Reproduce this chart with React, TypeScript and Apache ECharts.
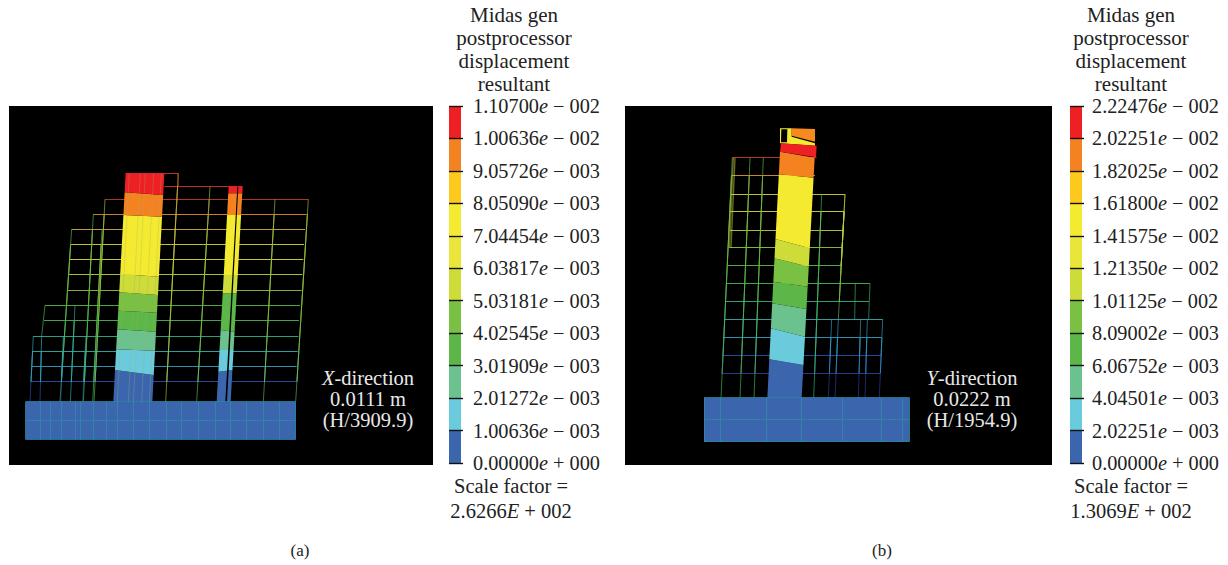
import React, { useEffect, useRef } from "react";
import * as echarts from "echarts";

const FONT = '"Liberation Serif", serif';

// colour scale (bottom to top)
const scaleColors = ["#3b66ae", "#69cbdb", "#6cc28f", "#5cb748", "#7ac143", "#cddc39", "#e9e53a", "#f4eb30", "#fcc91c", "#f58220", "#ee2024"];
const ticksA = ["0.00000{i|e} + 000", "1.00636{i|e} − 003", "2.01272{i|e} − 003", "3.01909{i|e} − 003", "4.02545{i|e} − 003", "5.03181{i|e} − 003", "6.03817{i|e} − 003", "7.04454{i|e} − 003", "8.05090{i|e} − 003", "9.05726{i|e} − 003", "1.00636{i|e} − 002", "1.10700{i|e} − 002"];
const ticksB = ["0.00000{i|e} + 000", "2.02251{i|e} − 003", "4.04501{i|e} − 003", "6.06752{i|e} − 003", "8.09002{i|e} − 003", "1.01125{i|e} − 002", "1.21350{i|e} − 002", "1.41575{i|e} − 002", "1.61800{i|e} − 002", "1.82025{i|e} − 002", "2.02251{i|e} − 002", "2.22476{i|e} − 002"];

// Panel (a): storeys [height, left end, right end, colour]
const levelsA: [number, number, number, string][] = [
  [40, 377, 535, "#c8382c"], [80, 493, 728, "#d8302a"], [118, 315, 925, "#c03a28"], [162, 280, 920, "#e08a30"],
  [207, 215, 915, "#d0b040"], [254, 212, 912, "#d8d03a"], [298, 210, 910, "#dcdc35"], [344, 207, 907, "#c0d03a"],
  [390, 203, 905, "#94c03c"], [436, 135, 900, "#58b848"], [482, 132, 897, "#46b855"], [528, 100, 895, "#32b085"],
  [574, 97, 893, "#30b0b0"], [620, 95, 890, "#30a0c0"], [665, 92, 888, "#2a50b0"],
];
const colsA: [number, number, number, number][] = [
  [90, 725, 100, 528], [125, 528, 135, 436], [120, 725, 125, 528], [180, 725, 215, 207], [182, 725, 190, 528],
  [211, 725, 225, 436], [248, 725, 258, 528], [278, 725, 306, 207], [250, 725, 280, 162], [282, 725, 315, 118],
  [497, 725, 535, 40], [590, 725, 630, 80], [790, 725, 825, 118], [887, 725, 925, 118], [533, 40, 535, 80],
];
const baseA = { x0: 77, x1: 887, y0: 725, y1: 838, mid: [780], cols: [120, 150, 185, 225, 240, 280, 318, 352, 400, 448, 498, 545, 595, 645, 690, 740, 790, 838] };
// Walls: bottom-left, top-left, bottom-right, top-right x; band boundaries [left y, right y] from the foot up
const wallA1 = { lb: 340, lt: 377, rb: 457, rt: 493, yb: 725, yt: 40 };
const bandsA1: [number, number, number][] = [
  [725, 725, 0], [630, 645, 1], [568, 572, 2], [508, 515, 3], [452, 458, 4], [397, 405, 5], [342, 350, 7], [165, 170, 9], [97, 105, 10], [40, 40, 10],
];
const wallA2 = { lb: 650, lt: 686, rb: 692, rt: 728, yb: 725, yt: 80 };
const bandsA2: [number, number, number][] = [
  [725, 725, 0], [635, 630, 1], [570, 570, 2], [510, 515, 3], [400, 400, 5], [345, 345, 7], [165, 165, 9], [100, 100, 10], [80, 80, 10],
];
const slitA: [number, number][] = [[676, 725], [712, 80], [715, 80], [681, 725]];
const innerA = [352, 385, 400, 425, 448];

// Panel (b)
const levelsB: [number, number, number, string][] = [
  [128, 157, 410, "#c8382c"], [182, 155, 405, "#d89a30"], [238, 153, 495, "#d8d03a"], [290, 150, 492, "#d8d83a"],
  [345, 150, 490, "#c0d03a"], [398, 148, 487, "#98c53c"], [452, 143, 483, "#60b848"], [506, 140, 570, "#46b855"],
  [560, 135, 567, "#32b085"], [613, 132, 608, "#30b0b0"], [668, 130, 605, "#30a0c0"], [722, 127, 603, "#2a50b0"], [775, 125, 601, "#2a40a0"],
];
const colsB: [number, number, number, number][] = [
  [123, 848, 157, 128], [180, 848, 210, 128], [222, 848, 250, 128], [401, 848, 425, 238], [445, 848, 455, 613],
  [465, 848, 475, 613], [475, 613, 495, 238], [535, 848, 542, 613], [555, 848, 562, 613], [598, 848, 608, 613],
  [566, 613, 570, 506], [524, 613, 526, 506], [482, 480, 495, 238],
];
const baseB = { x0: 72, x1: 688, y0: 848, y1: 980, mid: [912], cols: [122, 260, 365, 488, 603, 667] };
const wallB = { lb: 262, lt: 300, rb: 365, rt: 405, yb: 848, yt: 110 };
const bandsB: [number, number, number][] = [
  [848, 848, 0], [733, 750, 1], [640, 665, 2], [565, 582, 3], [500, 515, 4], [430, 455, 5], [372, 400, 7], [178, 188, 9], [110, 128, 9],
];
const topBlocksB: [string, [number, number][]][] = [
  ["#f4eb30", [[300, 85], [300, 40], [335, 40], [335, 65], [405, 85], [405, 92]]],
  ["#f58a20", [[335, 40], [405, 42], [405, 80], [335, 62]]],
  ["#000000", [[304, 43], [322, 43], [321, 82], [303, 82]]],
  ["#ee2024", [[303, 85], [410, 92], [408, 127], [300, 110]]],
];
const brightB: [number, number, number, number][] = [[148, 398, 160, 128], [153, 398, 165, 128]];

const titleLines = "Midas gen\npostprocessor\ndisplacement\nresultant";

type Poly = { fill: string; pts: [number, number][] };

function bandPolys(w: typeof wallA1, bands: [number, number, number][]): Poly[] {
  const xl = (y: number) => w.lb + ((w.lt - w.lb) * (w.yb - y)) / (w.yb - w.yt);
  const xr = (y: number) => w.rb + ((w.rt - w.rb) * (w.yb - y)) / (w.yb - w.yt);
  const out: Poly[] = [];
  for (let i = 0; i < bands.length - 1; i++) {
    const [a, b, c] = bands[i];
    const [d, e] = bands[i + 1];
    out.push({ fill: scaleColors[c], pts: [[xl(a), a], [xr(b), b], [xr(e), e], [xl(d), d]] });
  }
  return out;
}

function levelColor(levels: [number, number, number, string][], y: number) {
  let best = levels[0];
  for (const l of levels) if (Math.abs(l[0] - y) < Math.abs(best[0] - y)) best = l;
  return best[3];
}

function frameLines(levels: [number, number, number, string][], cols: [number, number, number, number][]) {
  const out: any[] = [];
  for (const [y, a, b, c] of levels) out.push({ coords: [[a, y], [b, y]], lineStyle: { color: c, width: 1.2, opacity: 0.9 } });
  const ys = levels.map((l) => l[0]);
  for (const [x0, y0, x1, y1] of cols) {
    const cuts = [y0, ...ys.filter((y) => y < y0 && y > y1), y1];
    for (let i = 0; i < cuts.length - 1; i++) {
      const t = (y: number) => x0 + ((x1 - x0) * (y0 - y)) / (y0 - y1 || 1);
      const m = (cuts[i] + cuts[i + 1]) / 2;
      out.push({ coords: [[t(cuts[i]), cuts[i]], [t(cuts[i + 1]), cuts[i + 1]]], lineStyle: { color: levelColor(levels, m), width: 1, opacity: 0.65 } });
    }
  }
  return out;
}

function baseLines(b: typeof baseA) {
  const out: any[] = [];
  for (const y of b.mid) out.push({ coords: [[b.x0, y], [b.x1, y]] });
  for (const x of b.cols) out.push({ coords: [[x, b.y0], [x, b.y1]] });
  out.push({ coords: [[b.x0, b.y0], [b.x1, b.y0]] }, { coords: [[b.x0, b.y1], [b.x1, b.y1]] }, { coords: [[b.x0, b.y0], [b.x0, b.y1]] }, { coords: [[b.x1, b.y0], [b.x1, b.y1]] });
  return out;
}

function polySeries(polys: Poly[], idx: number, z: number) {
  return {
    type: "custom",
    xAxisIndex: idx,
    yAxisIndex: idx,
    z,
    silent: true,
    clip: false,
    data: polys.map((p) => p.pts[0]),
    renderItem: (params: any, api: any) => {
      const p = polys[params.dataIndex];
      return { type: "polygon", shape: { points: p.pts.map((q) => api.coord(q)) }, style: { fill: p.fill, stroke: null } };
    },
  };
}

function lineSeries(data: any[], idx: number, z: number, style: any = {}) {
  return { type: "lines", coordinateSystem: "cartesian2d", xAxisIndex: idx, yAxisIndex: idx, z, silent: true, polyline: false, lineStyle: style, data };
}

function colorbarSeries(idx: number) {
  return scaleColors.map((c) => ({
    type: "bar",
    stack: "scale" + idx,
    xAxisIndex: idx,
    yAxisIndex: idx,
    barWidth: 12,
    silent: true,
    itemStyle: { color: c },
    data: [1],
  }));
}

function textTitle(text: string, left: number, top: number, color = "#222222", size = 21, lh = 22.8) {
  return {
    text,
    left,
    top,
    textAlign: "center",
    padding: 0,
    textStyle: {
      fontFamily: FONT,
      fontWeight: "normal",
      fontSize: size,
      lineHeight: lh,
      color,
      rich: { i: { fontFamily: FONT, fontStyle: "italic", fontSize: size, color, lineHeight: lh } },
    },
  };
}

export default function App() {
  const ref = useRef<HTMLDivElement>(null);
  useEffect(() => {
    document.body.style.margin = "0";
    document.body.style.background = "#ffffff";
    const chart = echarts.init(ref.current!, undefined, { renderer: "svg" });
    const hidden = { show: false };
    const panelX = (min: number, max: number, gridIndex: number) => ({ type: "value", min, max, gridIndex, ...hidden, splitLine: hidden });
    const panelY = (min: number, max: number, gridIndex: number) => ({ type: "value", min, max, gridIndex, inverse: true, ...hidden, splitLine: hidden });
    const barY = (labels: string[], gridIndex: number, margin: number) => ({
      type: "value",
      gridIndex,
      position: "right",
      min: 0,
      max: 11,
      interval: 1,
      z: 5,
      splitLine: hidden,
      axisLine: hidden,
      axisTick: { show: true, inside: true, length: 14, lineStyle: { color: "#111111", width: 1.4 } },
      axisLabel: {
        show: true,
        margin,
        fontFamily: FONT,
        fontSize: 20.3,
        color: "#222222",
        formatter: (v: number) => labels[Math.round(v)],
        rich: { i: { fontFamily: FONT, fontStyle: "italic", fontSize: 20.3, color: "#222222" } },
      },
    });
    const polysA = [
      { fill: scaleColors[0], pts: [[baseA.x0, baseA.y0], [baseA.x1, baseA.y0], [baseA.x1, baseA.y1], [baseA.x0, baseA.y1]] } as Poly,
      ...bandPolys(wallA1, bandsA1),
      ...bandPolys(wallA2, bandsA2),
      { fill: "#000000", pts: slitA } as Poly,
    ];
    const polysB = [
      { fill: scaleColors[0], pts: [[baseB.x0, baseB.y0], [baseB.x1, baseB.y0], [baseB.x1, baseB.y1], [baseB.x0, baseB.y1]] } as Poly,
      ...bandPolys(wallB, bandsB),
      ...topBlocksB.map(([fill, pts]) => ({ fill, pts })),
    ];
    chart.setOption({
      animation: false,
      backgroundColor: "#ffffff",
      title: [
        textTitle(titleLines, 514, 4),
        textTitle(titleLines, 1131, 4),
        textTitle("Scale factor =\n2.6266{i|E} + 002", 511, 473, "#222222", 20.5, 25),
        textTitle("Scale factor =\n1.3069{i|E} + 002", 1131, 473, "#222222", 20.5, 25),
        textTitle("(a)", 300, 539, "#222222", 17),
        textTitle("(b)", 882, 539, "#222222", 17),
        textTitle("{i|X}-direction\n0.0111 m\n(H/3909.9)", 368, 367, "#e8e8e8", 20.5, 21),
        textTitle("{i|Y}-direction\n0.0222 m\n(H/1954.9)", 972, 367, "#e8e8e8", 20.5, 21),
      ],
      grid: [
        { left: 9, top: 106, width: 424, height: 359, show: true, backgroundColor: "#000000", borderWidth: 0 },
        { left: 625, top: 106, width: 427, height: 359, show: true, backgroundColor: "#000000", borderWidth: 0 },
        { left: 447, top: 106, width: 16, height: 357 },
        { left: 1068, top: 106, width: 16, height: 357 },
      ],
      xAxis: [
        panelX(27, 1299, 0),
        panelX(-165, 1116, 1),
        { type: "category", gridIndex: 2, data: ["scale"], show: false },
        { type: "category", gridIndex: 3, data: ["scale"], show: false },
      ],
      yAxis: [panelY(-162, 915, 0), panelY(-27, 1050, 1), barY(ticksA, 2, 10), barY(ticksB, 3, 8)],
      series: [
        lineSeries(frameLines(levelsA, colsA), 0, 2),
        polySeries(polysA, 0, 3),
        lineSeries(baseLines(baseA), 0, 4, { color: "#2f8fa5", width: 1, opacity: 0.75 }),
        lineSeries(innerA.map((x) => ({ coords: [[x, wallA1.yb], [x + 36, wallA1.yt]] })), 0, 4, { color: "#9fb070", width: 1, opacity: 0.3 }),
        lineSeries(frameLines(levelsB, colsB), 1, 2),
        lineSeries(brightB.map(([a, b, c, d]) => ({ coords: [[a, b], [c, d]] })), 1, 2, { color: "#c8d83a", width: 1.4 }),
        polySeries(polysB, 1, 3),
        lineSeries(baseLines(baseB), 1, 4, { color: "#2f8fa5", width: 1, opacity: 0.75 }),
        ...colorbarSeries(2),
        ...colorbarSeries(3),
      ],
    });
    return () => chart.dispose();
  }, []);
  return <div ref={ref} style={{ width: 1228, height: 565 }} />;
}
